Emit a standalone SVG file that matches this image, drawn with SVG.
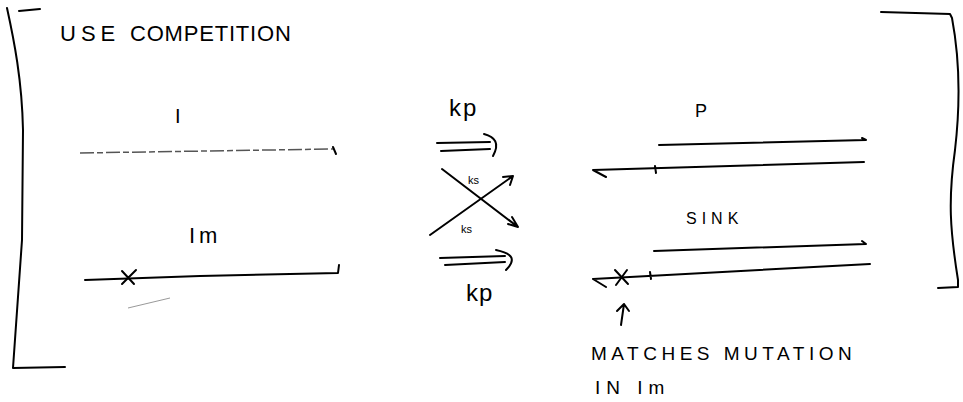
<svg xmlns="http://www.w3.org/2000/svg" width="963" height="402" viewBox="0 0 963 402">
<style>
.s{fill:none;stroke:#000;stroke-width:2;stroke-linecap:round;stroke-linejoin:round}
.t{font-family:"Liberation Sans","DejaVu Sans",sans-serif;fill:#000}
.faint{fill:none;stroke:#555;stroke-width:1.5;stroke-dasharray:14 3 6 3}
</style>
<rect width="963" height="402" fill="#fff"/>
<g id="brackets">
<path class="s" d="M7,8 C14,40 22,80 23,130 L22,240 L13,368 L65,367"/>
<path class="s" d="M19,11 L40,9"/>
<path class="s" d="M881,12 L950,14 L952,18 C958,50 962,90 955,150 C948,200 950,230 958,280 L958,287 L938,288"/>
</g>
<g id="title"><text class="t" x="60" y="41" font-size="22" letter-spacing="5">USE</text><text class="t" x="130" y="41" font-size="22" letter-spacing="0.8">COMPETITION</text></g>
<g id="I">
<text class="t" x="175" y="123" font-size="20">I</text>
<path class="faint" d="M80,153 L333,149"/>
<path class="s" d="M333,147 L336,154"/>
</g>
<g id="Im">
<text class="t" x="189" y="243" font-size="22" letter-spacing="4">Im</text>
<path class="s" d="M85,280 L200,276 L338,273 L339,265"/>
<path class="s" d="M122,271 L134,284 M122,284 L136,270"/>
<path d="M128,308 L170,298" stroke="#999" stroke-width="1" fill="none"/>
</g>
<g id="connectors">
<text class="t" x="449" y="116" font-size="24" letter-spacing="2">kp</text>
<path class="s" d="M437,143 L490,142 M441,151 L490,149 M484,134 C495,137 500,143 493,156"/>
<path class="s" d="M442,169 L518,227 M508,224 L518,227 L512,217"/>
<path class="s" d="M430,235 L513,176 M503,177 L513,176 L510,185"/>
<text class="t" x="468" y="184" font-size="11">ks</text>
<text class="t" x="461" y="233" font-size="11">ks</text>
<path class="s" d="M440,258 L505,256 M445,265 L505,262 M496,250 C510,253 518,258 506,270"/>
<text class="t" x="466" y="301" font-size="24" letter-spacing="1">kp</text>
</g>
<g id="P">
<text class="t" x="695" y="117" font-size="18">P</text>
<path class="s" d="M659,145 L866,140 L862,138"/>
<path class="s" d="M593,170 L864,162 M593,170 L606,177 M655,166 L656,173"/>
</g>
<g id="SINK">
<text class="t" x="686" y="224" font-size="16" letter-spacing="5">SINK</text>
<path class="s" d="M654,251 L866,244 L862,241"/>
<path class="s" d="M593,279 L870,264 M593,279 L606,287 M650,272 L651,279"/>
<path class="s" d="M615,270 L628,284 M616,285 L627,270"/>
</g>
<g id="note">
<path class="s" d="M621,325 L624,304 M617,311 L624,304 L629,311"/>
<text class="t" x="591" y="360" font-size="19" letter-spacing="4.5">MATCHES MUTATION</text>
<text class="t" x="595" y="394" font-size="19" letter-spacing="6">IN Im</text>
</g>
</svg>
